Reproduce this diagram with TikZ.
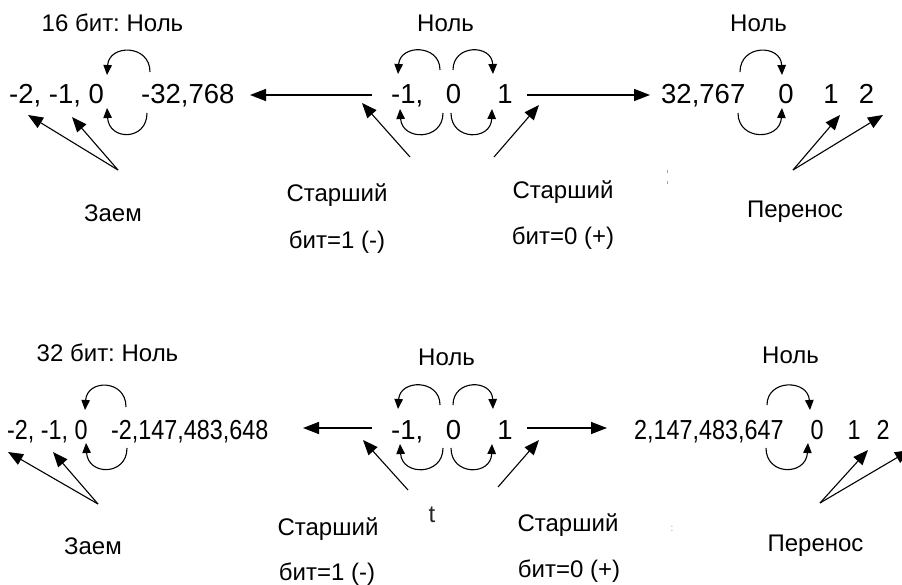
\documentclass[tikz,border=0pt]{standalone}
\usepackage{fontspec}
\setmainfont{Liberation Sans}
\newfontfamily\condfont[FakeStretch=0.85]{Liberation Sans}
\usetikzlibrary{arrows.meta}
\frenchspacing
\begin{document}
\begin{tikzpicture}[x=1pt,y=-1pt,
  lbl/.style={font=\fontsize{24}{28}\selectfont, inner sep=0pt, anchor=base},
  num/.style={font=\fontsize{27.5}{32}\selectfont, inner sep=0pt, anchor=base west},
  numc/.style={font=\fontsize{27.5}{32}\selectfont, inner sep=0pt, anchor=base},
  cnum/.style={font=\fontsize{27.5}{32}\condfont, inner sep=0pt, anchor=base west},
  cnumc/.style={font=\fontsize{27.5}{32}\condfont, inner sep=0pt, anchor=base},
  hz/.style={line width=1.5pt, -{Triangle[length=16pt,width=12pt]}},
  diag/.style={line width=1.1pt, -{Triangle[length=15pt,width=12pt]}},
  loop/.style={line width=1.1pt, -{Triangle[length=10pt,width=8.5pt]}}
]
\useasboundingbox (0,0) rectangle (902,585);

% ================= TOP (16 bit) =================
\node[lbl] (t16) at (112.5,31.5) {16 бит: Ноль};
\node[lbl] (tz2) at (445.5,31.5) {Ноль};
\node[lbl] (tz3) at (758.5,31.5) {Ноль};

\node[num] (tneg) at (9,104) {-2, -1, 0};
\node[num] (tmin) at (141,104) {-32,768};
\node[num] (tm1) at (391,104) {-1,};
\node[numc] (t0) at (453.5,104) {0};
\node[numc] (t1) at (505,104) {1};
\node[num] (tmax) at (661,104) {32,767};
\node[numc] (tr0) at (786,104) {0};
\node[numc] (tr1) at (831,104) {1};
\node[numc] (tr2) at (866.5,104) {2};

\node[lbl] (tzaem) at (113,222) {Заем};
\node[lbl] (tst1) at (337,202) {Старший};
\node[lbl] (tbit1) at (337,249) {бит=1 (-)};
\node[lbl] (tst0) at (563,199) {Старший};
\node[lbl] (tbit0) at (563,245) {бит=0 (+)};
\node[lbl] (tper) at (795,218) {Перенос};

% horizontal arrows
\coordinate (thl) at (372,95);
\coordinate (thle) at (250,95);
\coordinate (thr) at (527,95);
\coordinate (thre) at (650,95);
\draw[hz] (thl) -- (thle);
\draw[hz] (thr) -- (thre);

% loops
\draw[loop] (150,72) .. controls (150,44) and (109,44) .. (107,75);
\draw[loop] (147,113) .. controls (147,141) and (109,141) .. (107,108);
\draw[loop] (440,70) .. controls (440,44) and (400,44) .. (398,74);
\draw[loop] (453,70) .. controls (453,44) and (492,44) .. (493,74);
\draw[loop] (443,113) .. controls (443,141) and (402,141) .. (400,109);
\draw[loop] (451,113) .. controls (451,141) and (491,141) .. (492,109);
\draw[loop] (740,72) .. controls (740,44) and (781,44) .. (782,75);
\draw[loop] (738,113) .. controls (738,141) and (780,141) .. (782,108);

% diagonal arrows
\coordinate (tzo) at (118,170);
\coordinate (tza) at (28,115);
\coordinate (tzb) at (72,117);
\draw[diag] (tzo) -- (tza);
\draw[diag] (tzo) -- (tzb);
\coordinate (tso1) at (410,157);
\coordinate (tse1) at (362,103);
\draw[diag] (tso1) -- (tse1);
\coordinate (tso0) at (494,157);
\coordinate (tse0) at (539,105);
\draw[diag] (tso0) -- (tse0);
\coordinate (tpo) at (793,170);
\coordinate (tpa) at (840,115);
\coordinate (tpb) at (883,115);
\draw[diag] (tpo) -- (tpa);
\draw[diag] (tpo) -- (tpb);

% specks
\fill[black!35] (666.6,170.5) rectangle (667.4,173.5);
\fill[black!35] (666.6,181.5) rectangle (667.4,184.5);

% ================= BOTTOM (32 bit) =================
\node[lbl] (b32) at (107.5,361.5) {32 бит: Ноль};
\node[lbl] (bz2) at (446.5,365.5) {Ноль};
\node[lbl] (bz3) at (790.5,363.5) {Ноль};

\node[cnum] (bneg) at (7,439) {-2, -1, 0};
\node[cnum] (bmin) at (111,439) {-2,147,483,648};
\node[num] (bm1) at (391,439) {-1,};
\node[numc] (b0) at (453.5,439) {0};
\node[numc] (b1) at (505,439) {1};
\node[cnum] (bmax) at (634,439) {2,147,483,647};
\node[cnumc] (br0) at (817,439) {0};
\node[cnumc] (br1) at (854,439) {1};
\node[cnumc] (br2) at (883,439) {2};

\node[lbl] (bzaem) at (93,554) {Заем};
\node[lbl] (bst1) at (328,535) {Старший};
\node[lbl] (bbit1) at (327,580) {бит=1 (-)};
\node[lbl] (bst0) at (568,531) {Старший};
\node[lbl] (bbit0) at (569,577) {бит=0 (+)};
\node[lbl] (bper) at (815.5,551) {Перенос};
\node[lbl, text=black!85] (bt) at (432,522) {t};
\node[font=\fontsize{10}{12}\selectfont, text=black!40, inner sep=0pt, anchor=base] (bcolon) at (672,531) {:};

% horizontal arrows
\coordinate (bhl) at (372,428);
\coordinate (bhle) at (303,428);
\coordinate (bhr) at (527,428);
\coordinate (bhre) at (607,428);
\draw[hz] (bhl) -- (bhle);
\draw[hz] (bhr) -- (bhre);

% loops
\draw[loop] (126,407) .. controls (126,379) and (87,379) .. (85,410);
\draw[loop] (127,448) .. controls (127,476) and (88,476) .. (86,443);
\draw[loop] (440,405) .. controls (440,379) and (400,379) .. (398,409);
\draw[loop] (453,405) .. controls (453,379) and (492,379) .. (493,409);
\draw[loop] (443,448) .. controls (443,476) and (402,476) .. (400,444);
\draw[loop] (451,448) .. controls (451,476) and (491,476) .. (492,444);
\draw[loop] (767,405) .. controls (767,379) and (808,379) .. (810,410);
\draw[loop] (766,448) .. controls (766,476) and (806,476) .. (808,443);

% diagonal arrows
\coordinate (bzo) at (98,504);
\coordinate (bza) at (8,452);
\coordinate (bzb) at (53,452);
\draw[diag] (bzo) -- (bza);
\draw[diag] (bzo) -- (bzb);
\coordinate (bso1) at (408,490);
\coordinate (bse1) at (363,440);
\draw[diag] (bso1) -- (bse1);
\coordinate (bso0) at (498,487);
\coordinate (bse0) at (539,440);
\draw[diag] (bso0) -- (bse0);
\coordinate (bpo) at (820,503);
\coordinate (bpa) at (868,450);
\coordinate (bpb) at (910,450);
\draw[diag] (bpo) -- (bpa);
\draw[diag] (bpo) -- (bpb);
\end{tikzpicture}
\end{document}
